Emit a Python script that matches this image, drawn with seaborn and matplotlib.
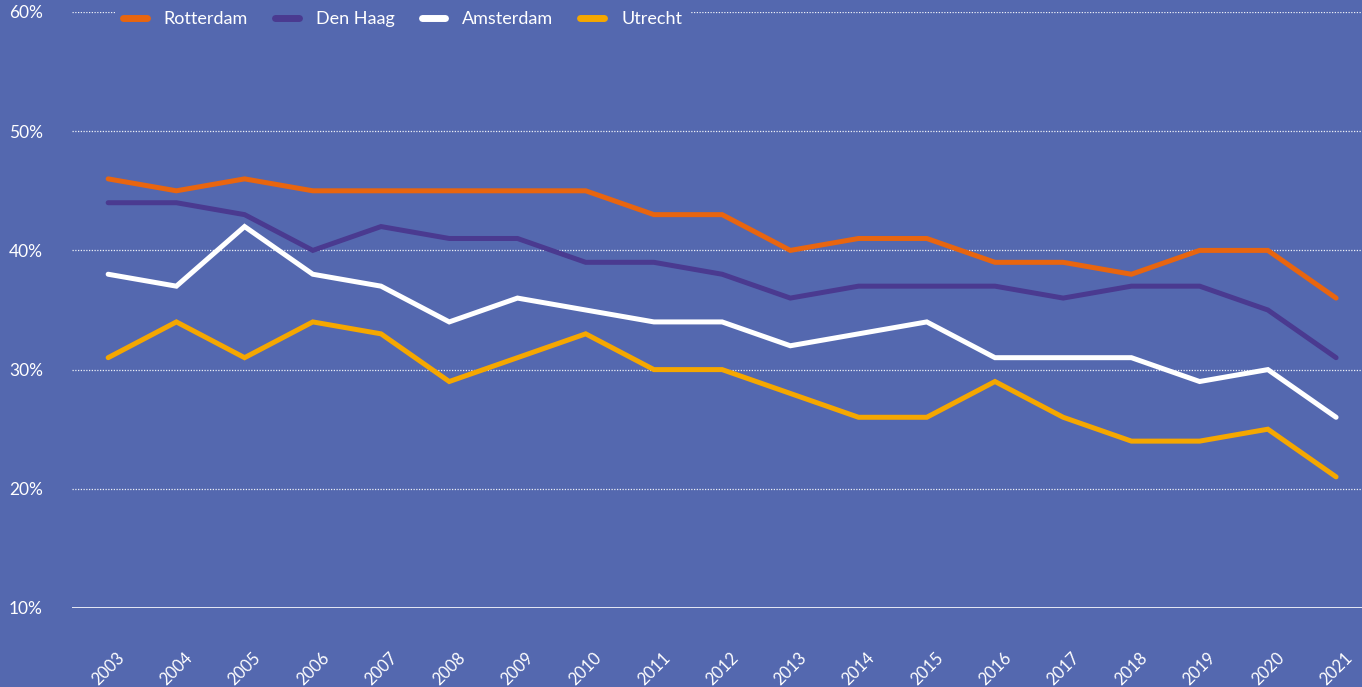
import matplotlib
matplotlib.use("Agg")
import matplotlib.pyplot as plt
from matplotlib.lines import Line2D
import seaborn as sns
import pandas as pd

years = list(range(2003, 2022))
rotterdam = [46, 45, 46, 45, 45, 45, 45, 45, 43, 43, 40, 41, 41, 39, 39, 38, 40, 40, 36]
den_haag = [44, 44, 43, 40, 42, 41, 41, 39, 39, 38, 36, 37, 37, 37, 36, 37, 37, 35, 31]
amsterdam = [38, 37, 42, 38, 37, 34, 36, 35, 34, 34, 32, 33, 34, 31, 31, 31, 29, 30, 26]
utrecht = [31, 34, 31, 34, 33, 29, 31, 33, 30, 30, 28, 26, 26, 29, 26, 24, 24, 25, 21]
cities = ["Rotterdam", "Den Haag", "Amsterdam", "Utrecht"]
y_ticks = [10, 20, 30, 40, 50, 60]
y_labels = ["10%", "20%", "30%", "40%", "50%", "60%"]

colors = {"Rotterdam": "#E8650F", "Den Haag": "#4A3A90",
          "Amsterdam": "#FFFFFF", "Utrecht": "#F5A700"}
bg = "#5468AF"

rows = []
for name, vals in zip(cities, [rotterdam, den_haag, amsterdam, utrecht]):
    for yr, v in zip(years, vals):
        rows.append({"year": yr, "value": v, "city": name})
df = pd.DataFrame(rows)

sns.set_theme(style="white")
plt.rcParams["font.family"] = ["Lato", "DejaVu Sans"]

W, H = 1362, 687
fig = plt.figure(figsize=(W / 100, H / 100), dpi=100)
fig.patch.set_facecolor(bg)
ax = fig.add_axes([72 / W, (H - 608) / H, 1 - 72 / W, (608 - 12) / H])
ax.set_facecolor(bg)

for y in y_ticks:
    if y == 10:
        ax.axhline(y, color="#E6E9F4", lw=1.4, zorder=1)
    else:
        ax.axhline(y, color="#FFFFFF", lw=0.9, ls=(0, (1, 1.2)), alpha=0.9, zorder=1)

sns.lineplot(data=df, x="year", y="value", hue="city", hue_order=cities,
             palette=colors, lw=3.6, ax=ax, legend=False, zorder=3,
             solid_capstyle="round", solid_joinstyle="miter")

ax.set_xlim(2002.47, 2021.38)
ax.set_ylim(10, 60)
ax.set_xticks(years)
ax.set_xticklabels([str(y) for y in years], rotation=45, ha="center", va="center",
                   rotation_mode="anchor", color="white", fontsize=12)
ax.set_yticks(y_ticks)
ax.set_yticklabels(y_labels, color="white", fontsize=12.5)
ax.tick_params(axis="x", length=0, pad=44)
ax.tick_params(axis="y", length=0, pad=21)
ax.set_xlabel("")
ax.set_ylabel("")
for s in ax.spines.values():
    s.set_visible(False)

handles = [Line2D([0], [0], color=colors[c], lw=5, solid_capstyle="round") for c in cities]
leg = fig.legend(handles, cities, loc="center left",
                 bbox_to_anchor=(106 / W, (H - 19) / H), ncol=4, frameon=True,
                 fontsize=13, handlelength=1.3, handletextpad=0.95,
                 columnspacing=1.5, borderpad=0.45)
leg.get_frame().set_facecolor(bg)
leg.get_frame().set_edgecolor("none")
leg.get_frame().set_alpha(1)
leg.set_zorder(5)
for t in leg.get_texts():
    t.set_color("white")

fig.savefig("out.png", dpi=100, facecolor=bg)
